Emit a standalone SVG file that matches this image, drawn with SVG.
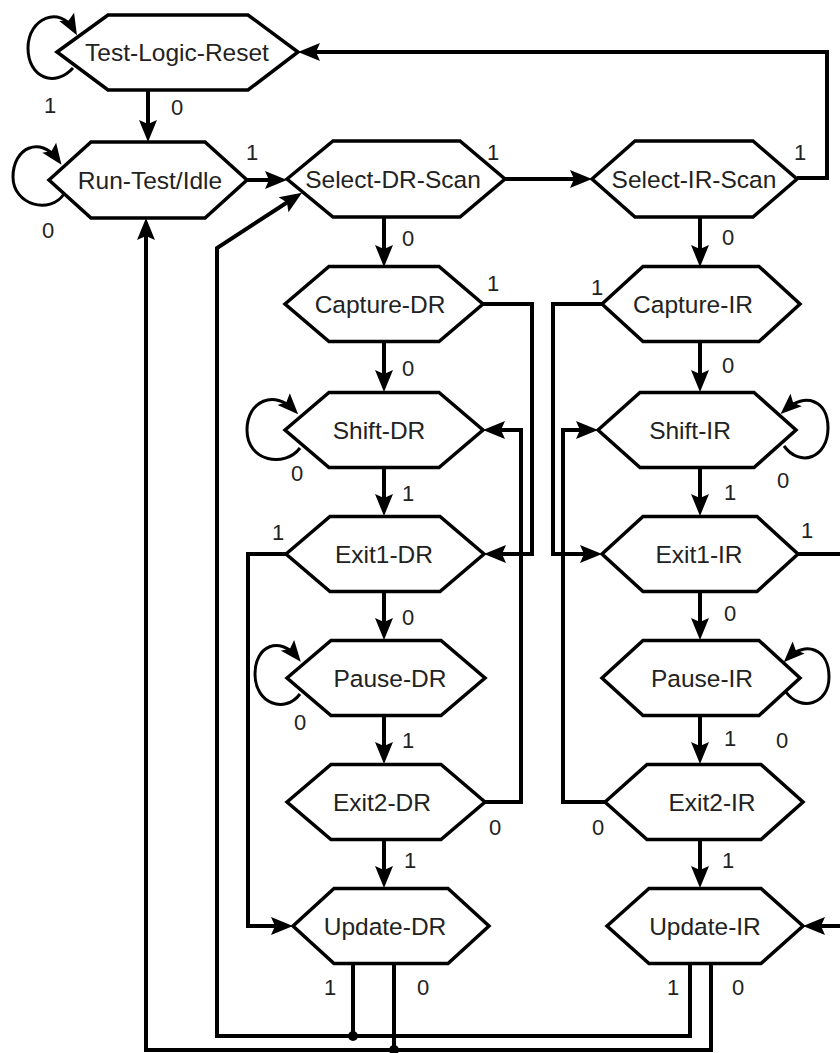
<svg xmlns="http://www.w3.org/2000/svg" width="840" height="1053" viewBox="0 0 840 1053">
<defs>
<marker id="ah" markerUnits="userSpaceOnUse" markerWidth="22" markerHeight="18" refX="16" refY="9" orient="auto" overflow="visible">
<path d="M0,0 L22,9 L0,18 L4,9 z" fill="#000"/>
</marker>
<marker id="ahs" markerUnits="userSpaceOnUse" markerWidth="21" markerHeight="17" refX="15" refY="8.5" orient="auto" overflow="visible">
<path d="M0,0 L21,8.5 L0,17 L4,8.5 z" fill="#000"/>
</marker>
</defs>
<style>
.node polygon{fill:#fff;stroke:#000;stroke-width:3.5;stroke-linejoin:miter}
.node text{font-family:"Liberation Sans",Arial,sans-serif;font-size:24.5px;fill:#222;text-anchor:middle}
.e{fill:none;stroke:#000;stroke-width:4;stroke-linejoin:miter}
.a{marker-end:url(#ah)}
.loop{fill:none;stroke:#000;stroke-width:3;marker-end:url(#ahs)}
.lbl{font-family:"Liberation Sans",Arial,sans-serif;font-size:22px;fill:#222;text-anchor:middle}
</style>
<rect width="840" height="1053" fill="#fff"/>

<g id="nodes">
<g id="test-logic-reset" class="node"><polygon points="57,52 108,15 248,15 298,52 248,90 108,90"/><text x="177" y="61">Test-Logic-Reset</text></g>
<g id="run-test-idle" class="node"><polygon points="49,180 91,142 205,142 247,180 205,218 91,218"/><text x="150" y="189">Run-Test/Idle</text></g>
<g id="select-dr-scan" class="node"><polygon points="287,179 333,141 460,141 505,179 460,217 333,217"/><text x="393" y="188">Select-DR-Scan</text></g>
<g id="select-ir-scan" class="node"><polygon points="592,179 635,141 753,141 797,179 753,217 635,217"/><text x="694" y="188">Select-IR-Scan</text></g>

<g id="capture-dr" class="node"><polygon transform="translate(384,304)" points="-99,0 -55,-37.5 55,-37.5 99,0 55,37.5 -55,37.5"/><text x="380" y="313">Capture-DR</text></g>
<g id="shift-dr" class="node"><polygon transform="translate(384,430)" points="-99,0 -55,-37.5 55,-37.5 99,0 55,37.5 -55,37.5"/><text x="379" y="439">Shift-DR</text></g>
<g id="exit1-dr" class="node"><polygon transform="translate(385,554)" points="-99,0 -55,-37.5 55,-37.5 99,0 55,37.5 -55,37.5"/><text x="384" y="563">Exit1-DR</text></g>
<g id="pause-dr" class="node"><polygon transform="translate(386,678)" points="-99,0 -55,-37.5 55,-37.5 99,0 55,37.5 -55,37.5"/><text x="390" y="687">Pause-DR</text></g>
<g id="exit2-dr" class="node"><polygon transform="translate(386,802)" points="-99,0 -55,-37.5 55,-37.5 99,0 55,37.5 -55,37.5"/><text x="382" y="811">Exit2-DR</text></g>
<g id="update-dr" class="node"><polygon transform="translate(391,926)" points="-98,0 -57,-37.5 57,-37.5 98,0 57,37.5 -57,37.5"/><text x="385" y="935">Update-DR</text></g>

<g id="capture-ir" class="node"><polygon transform="translate(701,304)" points="-99,0 -58,-37.5 58,-37.5 99,0 58,37.5 -58,37.5"/><text x="693" y="313">Capture-IR</text></g>
<g id="shift-ir" class="node"><polygon transform="translate(697,430)" points="-99,0 -57,-37.5 57,-37.5 99,0 57,37.5 -57,37.5"/><text x="690" y="439">Shift-IR</text></g>
<g id="exit1-ir" class="node"><polygon transform="translate(700,554)" points="-98,0 -57,-37.5 57,-37.5 98,0 57,37.5 -57,37.5"/><text x="699" y="563">Exit1-IR</text></g>
<g id="pause-ir" class="node"><polygon transform="translate(701,678)" points="-99,0 -58,-37.5 58,-37.5 99,0 58,37.5 -58,37.5"/><text x="702" y="687">Pause-IR</text></g>
<g id="exit2-ir" class="node"><polygon transform="translate(704,802)" points="-99,0 -57,-37.5 57,-37.5 99,0 57,37.5 -57,37.5"/><text x="712" y="811">Exit2-IR</text></g>
<g id="update-ir" class="node"><polygon transform="translate(705,926)" points="-98,0 -56,-37.5 56,-37.5 98,0 56,37.5 -56,37.5"/><text x="705" y="935">Update-IR</text></g>
</g>

<g id="connectors">
<path class="loop" d="M73,68 C55,88 28,78 28,48 C28,18 60,5 74,30"/>
<path class="e a" d="M148,90 V136"/>
<path class="loop" d="M64,194 C50,215 13,205 13,177 C13,148 40,135 58,160"/>
<path class="e a" d="M247,180 H281"/>
<path class="e a" d="M505,179 H586"/>
<path class="e a" d="M797,178 H827 V52 H304"/>
<path class="e a" d="M384,217 V261"/>
<path class="e a" d="M700,217 V261"/>

<path class="e a" d="M483,304 H532 V554 H490"/>
<path class="e a" d="M384,342 V386"/>
<path class="loop" d="M300,448 C285,468 247,462 247,430 C247,400 275,390 294,410"/>
<path class="e a" d="M384,467 V510"/>
<path class="e a" d="M485,802 H521 V430 H489"/>
<path class="e a" d="M384,592 V634"/>
<path class="loop" d="M300,694 C285,714 255,704 255,674 C255,645 280,636 297,657"/>
<path class="e a" d="M384,716 V758"/>
<path class="e a" d="M384,840 V882"/>
<path class="e a" d="M286,554 H248 V926 H287"/>

<path class="e a" d="M690,964 V1036 H217 V248 L297,196"/>
<path class="e" d="M353,964 V1036"/>
<circle cx="353" cy="1036" r="5" fill="#000"/>
<path class="e a" d="M711,964 V1050 H146 V224"/>
<path class="e" d="M394,964 V1050"/>
<circle cx="394" cy="1050" r="5" fill="#000"/>

<path class="e a" d="M602,304 H553 V554 H596"/>
<path class="e a" d="M700,342 V386"/>
<path class="loop" d="M784,446 C800,468 828,458 828,428 C828,400 805,392 785,410"/>
<path class="e a" d="M700,467 V510"/>
<path class="e a" d="M605,802 H563 V430 H592"/>
<path class="e a" d="M700,592 V634"/>
<path class="loop" d="M786,692 C800,712 829,705 829,677 C829,648 805,641 788,658"/>
<path class="e a" d="M700,716 V758"/>
<path class="e a" d="M700,840 V882"/>
<path class="e a" d="M798,554 H850 V926 H809"/>
</g>

<g id="labels">
<text class="lbl" x="50" y="113">1</text>
<text class="lbl" x="177" y="115">0</text>
<text class="lbl" x="48" y="238">0</text>
<text class="lbl" x="252" y="160">1</text>
<text class="lbl" x="493" y="160">1</text>
<text class="lbl" x="800" y="160">1</text>
<text class="lbl" x="408" y="246">0</text>
<text class="lbl" x="728" y="245">0</text>
<text class="lbl" x="493" y="291">1</text>
<text class="lbl" x="408" y="376">0</text>
<text class="lbl" x="297" y="481">0</text>
<text class="lbl" x="408" y="501">1</text>
<text class="lbl" x="495" y="835">0</text>
<text class="lbl" x="408" y="625">0</text>
<text class="lbl" x="300" y="730">0</text>
<text class="lbl" x="408" y="748">1</text>
<text class="lbl" x="410" y="868">1</text>
<text class="lbl" x="278" y="540">1</text>
<text class="lbl" x="330" y="995">1</text>
<text class="lbl" x="423" y="995">0</text>
<text class="lbl" x="673" y="995">1</text>
<text class="lbl" x="738" y="995">0</text>
<text class="lbl" x="597" y="295">1</text>
<text class="lbl" x="728" y="373">0</text>
<text class="lbl" x="783" y="488">0</text>
<text class="lbl" x="730" y="500">1</text>
<text class="lbl" x="598" y="835">0</text>
<text class="lbl" x="807" y="538">1</text>
<text class="lbl" x="730" y="621">0</text>
<text class="lbl" x="782" y="748">0</text>
<text class="lbl" x="730" y="746">1</text>
<text class="lbl" x="728" y="868">1</text>
</g>
</svg>
